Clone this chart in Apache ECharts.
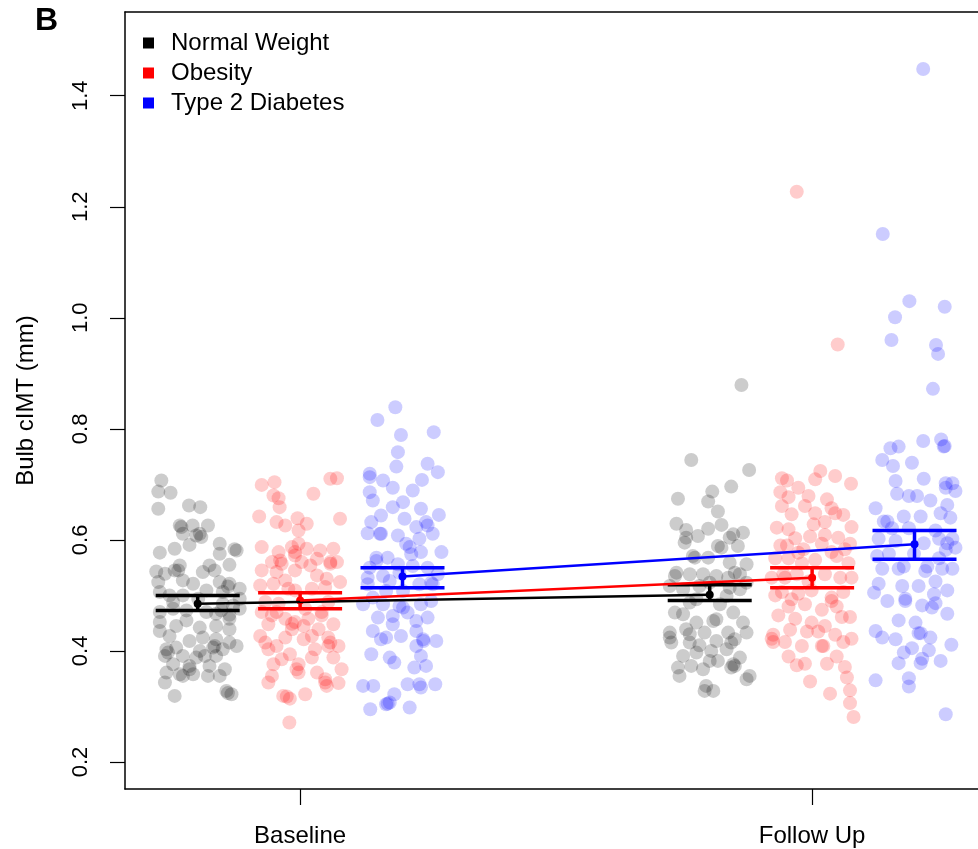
<!DOCTYPE html>
<html>
<head>
<meta charset="utf-8">
<script src="https://cdn.jsdelivr.net/npm/echarts@6/dist/echarts.min.js"></script>
<style>
  html, body { margin: 0; padding: 0; background: #fff; }
  #chart { width: 978px; height: 849px; }
</style>
</head>
<body>
<div id="chart"></div>
<script>
// groups and time points
const groups = ['Normal Weight', 'Obesity', 'Type 2 Diabetes'];
const timepoints = ['Baseline', 'Follow Up'];
const yTicks = [0.2, 0.4, 0.6, 0.8, 1.0, 1.2, 1.4];

// group means and 95% CI, [baseline, follow up]
const meanValues = [[0.485, 0.501], [0.491, 0.532], [0.534, 0.592]];
const ciLower = [[0.473, 0.491], [0.476, 0.514], [0.514, 0.565]];
const ciUpper = [[0.500, 0.519], [0.505, 0.550], [0.550, 0.617]];

// individual subjects: [jitter, cIMT]
const nwBase = [[-0.071,0.707],[-0.077,0.687],[-0.053,0.685],[-0.077,0.656],[-0.017,0.662],[0.005,0.659],
  [-0.035,0.626],[-0.010,0.626],[0.020,0.626],[-0.003,0.608],[0.007,0.605],[-0.029,0.611],[0.043,0.593],
  [0.072,0.583],[-0.016,0.591],[-0.045,0.584],[-0.074,0.577],[-0.035,0.554],[0.062,0.555],[-0.081,0.543],
  [-0.064,0.539],[-0.045,0.545],[0.010,0.542],[0.033,0.545],[-0.029,0.527],[-0.009,0.521],[0.043,0.524],
  [0.062,0.521],[0.082,0.512],[-0.077,0.524],[0.049,0.506],[0.017,0.509],[-0.074,0.506],[-0.055,0.500],
  [-0.029,0.500],[0.001,0.494],[0.049,0.485],[0.069,0.482],[0.082,0.476],[-0.074,0.470],[-0.048,0.476],
  [-0.022,0.473],[0.017,0.470],[0.036,0.467],[0.062,0.458],[-0.022,0.455],[-0.074,0.452],[-0.042,0.445],
  [0.004,0.442],[0.036,0.445],[0.062,0.439],[-0.074,0.436],[-0.055,0.427],[-0.016,0.418],[0.010,0.424],
  [0.036,0.421],[0.062,0.415],[0.076,0.409],[-0.061,0.403],[-0.042,0.406],[0.004,0.400],[0.030,0.406],
  [0.049,0.403],[-0.064,0.391],[-0.029,0.391],[-0.003,0.388],[0.036,0.391],[-0.048,0.376],[-0.016,0.373],
  [0.023,0.373],[0.053,0.367],[-0.061,0.361],[-0.035,0.358],[-0.009,0.358],[0.020,0.355],[0.043,0.355],
  [-0.064,0.343],[-0.045,0.319],[0.056,0.328],[0.066,0.322],
  [-0.032,0.623],[0.004,0.611],[0.076,0.581],[0.059,0.516],[0.062,0.465],[0.046,0.473],[-0.058,0.397],
  [-0.029,0.355],[-0.016,0.367],[0.059,0.324],[0.033,0.409],[-0.038,0.545],[0.043,0.575],[0.023,0.554],
  [0.082,0.494],[0.014,0.391],[-0.048,0.488]];
const obBase = [[-0.075,0.699],[-0.050,0.704],[-0.052,0.680],[-0.042,0.675],[0.026,0.683],[0.059,0.710],
  [0.072,0.711],[-0.080,0.642],[-0.040,0.659],[-0.046,0.632],[-0.029,0.626],[-0.005,0.639],[0.013,0.629],
  [0.078,0.638],[-0.003,0.617],[-0.075,0.587],[-0.042,0.578],[-0.016,0.587],[-0.003,0.593],[0.013,0.584],
  [0.039,0.581],[0.065,0.584],[0.072,0.560],[-0.055,0.560],[-0.036,0.557],[-0.010,0.572],[0.003,0.560],
  [0.033,0.566],[0.059,0.560],[-0.075,0.545],[-0.046,0.542],[-0.010,0.545],[-0.029,0.527],[0.033,0.536],
  [0.052,0.530],[0.078,0.524],[-0.078,0.518],[-0.052,0.521],[-0.010,0.509],[0.023,0.512],[0.049,0.515],
  [-0.068,0.488],[-0.042,0.485],[0.055,0.488],[-0.075,0.470],[-0.055,0.464],[-0.029,0.458],[-0.010,0.452],
  [0.016,0.458],[0.042,0.464],[0.065,0.448],[-0.062,0.448],[-0.016,0.439],[0.007,0.445],[0.036,0.439],
  [-0.078,0.427],[-0.029,0.424],[0.007,0.421],[0.055,0.424],[0.075,0.409],[-0.062,0.403],[-0.046,0.409],
  [-0.020,0.394],[0.029,0.403],[0.055,0.409],[-0.052,0.376],[-0.003,0.376],[0.023,0.388],[0.065,0.388],
  [0.081,0.367],[-0.055,0.355],[-0.003,0.361],[0.033,0.361],[0.049,0.349],[-0.062,0.343],[-0.033,0.319],
  [-0.020,0.314],[0.010,0.322],[0.052,0.337],[0.075,0.342],[-0.021,0.271],
  [-0.010,0.578],[-0.039,0.563],[0.059,0.557],[-0.016,0.449],[0.059,0.415],[0.049,0.343],[-0.026,0.318],
  [-0.007,0.367],[0.042,0.470],[-0.046,0.470],[0.010,0.476],[0.023,0.427],[-0.068,0.415],[-0.036,0.385],
  [0.020,0.554],[-0.023,0.512]];
const t2Base = [[-0.014,0.839],[-0.049,0.816],[-0.003,0.789],[0.061,0.794],[-0.009,0.758],[-0.012,0.732],
  [0.049,0.737],[0.069,0.722],[-0.064,0.719],[-0.038,0.707],[-0.019,0.694],[0.038,0.708],[-0.064,0.686],
  [0.020,0.689],[-0.058,0.671],[0.001,0.668],[-0.019,0.659],[0.036,0.656],[-0.042,0.644],[0.004,0.638],
  [0.071,0.645],[-0.061,0.632],[0.046,0.632],[0.027,0.623],[0.059,0.611],[-0.068,0.612],[-0.044,0.611],
  [-0.009,0.608],[0.033,0.602],[0.007,0.593],[0.076,0.578],[0.036,0.578],[-0.051,0.568],[-0.029,0.568],
  [0.017,0.574],[-0.009,0.556],[-0.064,0.550],[0.020,0.553],[0.049,0.550],[-0.038,0.535],[0.069,0.538],
  [-0.068,0.520],[-0.025,0.526],[0.033,0.520],[0.056,0.523],[-0.058,0.496],[0.001,0.508],[-0.077,0.484],
  [-0.038,0.484],[-0.006,0.481],[0.036,0.484],[0.056,0.490],[-0.048,0.460],[-0.019,0.463],[0.010,0.469],
  [0.049,0.460],[-0.058,0.436],[-0.032,0.424],[-0.003,0.427],[0.027,0.436],[0.066,0.418],[-0.042,0.421],
  [0.040,0.421],[0.027,0.409],[-0.061,0.394],[-0.025,0.388],[0.036,0.391],[-0.016,0.379],[0.023,0.370],
  [0.046,0.373],[-0.077,0.337],[-0.057,0.337],[0.010,0.340],[0.033,0.340],[0.064,0.340],[-0.016,0.322],
  [-0.032,0.304],[-0.025,0.307],[-0.063,0.295],[0.014,0.298],[0.036,0.334],
  [-0.064,0.713],[-0.042,0.611],[0.049,0.626],[-0.051,0.562],[-0.006,0.541],[0.041,0.418],[-0.029,0.305],
  [0.001,0.478],[0.027,0.454],[-0.032,0.508],[0.059,0.520],[0.014,0.587],[-0.019,0.448],[-0.068,0.532]];
const nwFu = [[0.062,0.879],[-0.036,0.744],[0.077,0.726],[0.042,0.696],[0.005,0.687],[-0.062,0.674],
  [-0.003,0.669],[0.016,0.651],[-0.065,0.629],[-0.046,0.618],[-0.003,0.620],[0.023,0.627],[0.046,0.610],
  [0.065,0.613],[-0.049,0.595],[-0.023,0.607],[0.023,0.586],[0.055,0.589],[-0.033,0.571],[-0.003,0.568],
  [-0.065,0.541],[0.039,0.559],[0.072,0.556],[-0.039,0.538],[-0.013,0.538],[0.013,0.535],[0.036,0.532],
  [0.059,0.538],[-0.078,0.517],[-0.052,0.511],[-0.020,0.517],[0.039,0.514],[0.059,0.511],[-0.068,0.469],
  [-0.039,0.487],[0.020,0.484],[0.046,0.469],[-0.026,0.451],[0.007,0.454],[0.065,0.451],[-0.078,0.433],
  [-0.046,0.439],[-0.010,0.433],[0.036,0.433],[0.072,0.433],[-0.075,0.415],[-0.039,0.415],[0.013,0.418],
  [0.042,0.415],[-0.052,0.391],[-0.026,0.397],[0.003,0.400],[0.033,0.403],[0.059,0.388],[0.000,0.382],
  [-0.062,0.370],[-0.036,0.373],[-0.013,0.367],[0.046,0.376],[0.042,0.370],[0.072,0.349],[-0.059,0.355],
  [-0.007,0.337],[0.007,0.328],[-0.010,0.328],[0.078,0.355],
  [-0.029,0.568],[0.016,0.589],[0.049,0.541],[-0.068,0.535],[-0.026,0.493],[0.013,0.457],[0.049,0.421],
  [-0.078,0.424],[-0.039,0.430],[0.000,0.523],[0.072,0.523],[-0.052,0.466],[0.033,0.499],[-0.020,0.410],
  [0.016,0.382],[0.049,0.373],[-0.046,0.604],[0.039,0.604]];
const obFu = [[-0.030,1.227],[0.050,0.952],[-0.059,0.711],[-0.049,0.707],[0.016,0.724],[0.045,0.715],
  [0.076,0.701],[0.006,0.709],[-0.027,0.694],[-0.062,0.686],[-0.046,0.677],[-0.007,0.679],[0.029,0.673],
  [-0.059,0.661],[-0.014,0.661],[0.038,0.657],[0.061,0.645],[-0.040,0.646],[0.006,0.648],[-0.069,0.622],
  [-0.046,0.619],[0.003,0.628],[0.025,0.609],[0.051,0.604],[0.077,0.623],[-0.033,0.603],[-0.062,0.590],
  [-0.004,0.606],[-0.017,0.583],[0.019,0.593],[0.038,0.578],[0.074,0.593],[-0.072,0.567],[-0.046,0.567],
  [-0.020,0.558],[0.006,0.564],[0.048,0.571],[0.071,0.558],[-0.079,0.532],[-0.053,0.532],[-0.030,0.538],
  [0.025,0.538],[0.055,0.532],[0.077,0.532],[-0.059,0.506],[-0.027,0.503],[-0.001,0.509],[0.038,0.496],
  [0.061,0.506],[-0.046,0.480],[-0.014,0.484],[0.019,0.474],[0.048,0.480],[-0.066,0.464],[-0.033,0.458],
  [-0.001,0.451],[0.025,0.445],[0.074,0.461],[-0.076,0.429],[-0.043,0.438],[-0.010,0.435],[0.045,0.429],
  [-0.053,0.416],[0.019,0.409],[0.061,0.416],[0.077,0.422],[-0.046,0.390],[-0.030,0.374],[-0.014,0.377],
  [0.029,0.377],[0.048,0.390],[0.064,0.371],[-0.004,0.345],[0.035,0.323],[0.068,0.352],[0.074,0.329],
  [0.074,0.306],[0.081,0.281],[-0.076,0.416],
  [0.038,0.490],[0.022,0.409],[-0.079,0.422],[-0.056,0.538],[-0.027,0.577],[0.025,0.632],[0.045,0.648],
  [-0.007,0.525],[-0.040,0.493],[0.058,0.461],[0.012,0.435],[-0.020,0.409],[-0.049,0.590],[0.064,0.583],
  [-0.072,0.500]];
const t2Fu = [[0.017,1.448],[-0.062,1.151],[-0.010,1.030],[0.059,1.020],[-0.038,1.001],[-0.045,0.960],
  [0.042,0.951],[0.046,0.935],[0.036,0.872],[0.017,0.778],[0.052,0.781],[0.059,0.769],[-0.047,0.765],
  [-0.031,0.768],[-0.063,0.744],[-0.042,0.733],[-0.005,0.739],[-0.037,0.706],[0.018,0.710],[-0.034,0.683],
  [0.061,0.702],[0.074,0.702],[0.080,0.688],[-0.076,0.657],[0.005,0.679],[0.031,0.671],[0.064,0.663],
  [-0.060,0.633],[-0.021,0.642],[0.012,0.642],[0.051,0.648],[0.070,0.640],[-0.044,0.621],[-0.011,0.621],
  [0.041,0.617],[-0.070,0.602],[-0.037,0.598],[0.018,0.594],[0.048,0.602],[0.074,0.602],[-0.073,0.571],
  [-0.050,0.575],[-0.001,0.575],[0.061,0.582],[0.080,0.586],[-0.063,0.548],[-0.021,0.552],[0.025,0.552],
  [0.054,0.548],[0.074,0.548],[-0.079,0.505],[-0.053,0.490],[-0.024,0.517],[0.008,0.517],[0.038,0.502],
  [0.064,0.509],[-0.018,0.490],[0.015,0.482],[0.041,0.486],[-0.031,0.455],[0.002,0.451],[0.064,0.467],
  [-0.076,0.436],[-0.063,0.424],[-0.037,0.421],[0.008,0.432],[0.031,0.424],[-0.005,0.405],[-0.021,0.397],
  [0.015,0.386],[-0.031,0.378],[0.028,0.401],[0.072,0.411],[0.051,0.382],[-0.076,0.347],[-0.011,0.351],
  [-0.011,0.336],[0.061,0.286],[0.012,0.378],[0.041,0.525],
  [0.061,0.694],[-0.011,0.679],[0.012,0.432],[-0.018,0.494],[0.064,0.594],[0.021,0.544],[-0.053,0.633],
  [0.057,0.768],[-0.031,0.548],[0.034,0.478],[-0.070,0.521],[0.048,0.567]];

const subjects = [[nwBase, nwFu], [obBase, obFu], [t2Base, t2Fu]];

const solid = ['#000000', '#ff0000', '#0000ff'];
const DODGE = 0.2;
const FONT = '"Liberation Sans", Arial, Helvetica, sans-serif';

function groupX(g, t) {
  return t + 1 + (g - 1) * DODGE;
}

// error bar: caps at CI limits, stem, mean dot
function renderCI(params, api) {
  const x = api.value(0);
  const pLo = api.coord([x, api.value(1)]);
  const pHi = api.coord([x, api.value(2)]);
  const pM = api.coord([x, api.value(3)]);
  const hw = 42;
  const color = api.visual('color');
  const st = { stroke: color, lineWidth: 3.5 };
  return {
    type: 'group',
    children: [
      { type: 'line', shape: { x1: pHi[0] - hw, y1: pHi[1], x2: pHi[0] + hw, y2: pHi[1] }, style: st },
      { type: 'line', shape: { x1: pLo[0] - hw, y1: pLo[1], x2: pLo[0] + hw, y2: pLo[1] }, style: st },
      { type: 'line', shape: { x1: pM[0], y1: pHi[1], x2: pM[0], y2: pLo[1] }, style: st },
      { type: 'circle', shape: { cx: pM[0], cy: pM[1], r: 4 }, style: { fill: color } }
    ]
  };
}

const series = [];
// raw points
groups.forEach((name, g) => {
  const pts = [];
  subjects[g].forEach((arr, t) => {
    arr.forEach(p => pts.push([groupX(g, t) + p[0], p[1]]));
  });
  series.push({
    name: name,
    type: 'scatter',
    data: pts,
    symbolSize: 14,
    itemStyle: { color: solid[g], opacity: 0.2 },
    emphasis: { disabled: true },
    silent: true
  });
});
// mean lines
groups.forEach((name, g) => {
  series.push({
    name: name + ' mean',
    type: 'line',
    data: meanValues[g].map((m, t) => [groupX(g, t), m]),
    showSymbol: false,
    lineStyle: { color: solid[g], width: 2.5 },
    silent: true
  });
});
// confidence intervals
groups.forEach((name, g) => {
  series.push({
    name: name + ' CI',
    type: 'custom',
    renderItem: renderCI,
    itemStyle: { color: solid[g] },
    encode: { x: 0, y: [1, 2, 3] },
    data: timepoints.map((tp, t) => [groupX(g, t), ciLower[g][t], ciUpper[g][t], meanValues[g][t]]),
    silent: true
  });
});

const chart = echarts.init(document.getElementById('chart'));
chart.setOption({
  animation: false,
  backgroundColor: '#fff',
  textStyle: { fontFamily: FONT },
  grid: { left: 125, right: 0, top: 12, bottom: 60 },
  legend: {
    orient: 'vertical',
    left: 143,
    top: 28,
    padding: 0,
    icon: 'rect',
    itemWidth: 11,
    itemHeight: 11,
    itemGap: 0,
    selectedMode: false,
    textStyle: { fontSize: 24, lineHeight: 30, color: '#000', fontFamily: FONT, padding: [0, 0, 0, 12] },
    data: groups.map((g, i) => ({ name: g, itemStyle: { color: solid[i], opacity: 1 } }))
  },
  xAxis: [{
    type: 'value',
    min: 0.658,
    max: 2.324,
    splitLine: { show: false },
    axisLine: { show: true, onZero: false, lineStyle: { color: '#000', width: 1.5 } },
    axisTick: { show: true, length: 16, customValues: [1, 2], lineStyle: { color: '#000', width: 1.2 } },
    axisLabel: {
      customValues: [1, 2],
      margin: 35,
      fontSize: 24,
      color: '#000',
      fontFamily: FONT,
      formatter: v => timepoints[Math.round(v) - 1]
    }
  }, {
    type: 'value',
    position: 'top',
    min: 0.658,
    max: 2.324,
    splitLine: { show: false },
    axisLine: { show: true, onZero: false, lineStyle: { color: '#000', width: 1.5 } },
    axisTick: { show: false },
    axisLabel: { show: false }
  }],
  yAxis: {
    type: 'value',
    min: 0.1513,
    max: 1.5508,
    name: 'Bulb cIMT (mm)',
    nameLocation: 'middle',
    nameRotate: 90,
    nameGap: 87,
    nameTextStyle: { fontSize: 24, color: '#000', fontFamily: FONT },
    splitLine: { show: false },
    axisLine: { show: true, onZero: false, lineStyle: { color: '#000', width: 1.5 } },
    axisTick: { show: true, length: 15, customValues: yTicks, lineStyle: { color: '#000', width: 1.2 } },
    axisLabel: {
      customValues: yTicks,
      rotate: 90,
      margin: 33,
      fontSize: 22,
      color: '#000',
      fontFamily: FONT,
      formatter: v => v.toFixed(1)
    }
  },
  graphic: [{
    type: 'text',
    left: 35,
    top: 5,
    style: { text: 'B', fontSize: 32, fontWeight: 'bold', fill: '#000', fontFamily: FONT }
  }],
  series: series
});
</script>
</body>
</html>
